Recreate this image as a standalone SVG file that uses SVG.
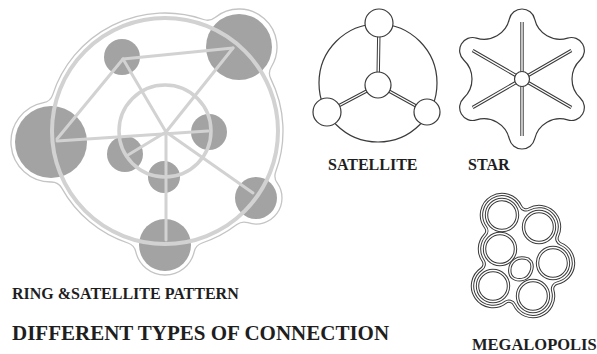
<svg xmlns="http://www.w3.org/2000/svg" width="597" height="354" viewBox="0 0 597 354">
<style>
.blob{fill:#fff;stroke:#c4c4c4;stroke-width:1.3}
.gnode{fill:#a3a3a3}
.gring{fill:none;stroke:#d2d2d2}
.gline{stroke:#d2d2d2;stroke-width:3;stroke-linecap:round}
.ink{fill:none;stroke:#3a3a3a;stroke-width:1.2}
.wnode{fill:#fff;stroke:#3a3a3a;stroke-width:1.2}
.dbl-o{fill:none;stroke:#3a3a3a;stroke-width:3.4}
.dbl-i{fill:none;stroke:#fff;stroke-width:1.4}
.lbl{font-family:"Liberation Serif","Times New Roman",serif;font-weight:bold;fill:#1e1e1e}
</style>
<rect width="597" height="354" fill="#fff"/>

<g id="ring-satellite">
  <path id="ring-outline" class="blob" d="M 203.59 19.50 A 12 12 0 0 0 215.08 17.48 A 38 38 0 0 1 271.30 67.02 A 12 12 0 0 0 270.75 78.66 A 118 118 0 0 1 275.71 171.84 A 12 12 0 0 0 277.19 182.94 A 26 26 0 0 1 247.91 222.71 A 12 12 0 0 0 236.86 224.60 A 118 118 0 0 1 202.15 243.00 A 12 12 0 0 0 194.24 251.71 A 30 30 0 0 1 135.76 251.71 A 12 12 0 0 0 127.85 243.00 A 118 118 0 0 1 61.78 188.18 A 12 12 0 0 0 51.22 182.00 A 40 40 0 0 1 43.57 102.69 A 12 12 0 0 0 52.76 94.60 A 118 118 0 0 1 203.59 19.50 Z"/>
  <g id="rs-nodes">
    <circle id="rs-n-topleft" class="gnode" cx="122" cy="57" r="18"/>
    <circle id="rs-n-topright" class="gnode" cx="239" cy="47" r="33"/>
    <circle id="rs-n-left" class="gnode" cx="51" cy="142" r="36"/>
    <circle id="rs-n-innerright" class="gnode" cx="209" cy="132" r="18"/>
    <circle id="rs-n-innerleft" class="gnode" cx="125" cy="154" r="18"/>
    <circle id="rs-n-innerbottom" class="gnode" cx="164" cy="177" r="16"/>
    <circle id="rs-n-lowerright" class="gnode" cx="256" cy="198" r="21"/>
    <circle id="rs-n-bottom" class="gnode" cx="165" cy="245" r="26"/>
  </g>
  <g id="rs-connectors">
    <circle class="gring" cx="165" cy="131" r="113" stroke-width="4"/>
    <circle class="gring" cx="165" cy="131" r="46" stroke-width="3.5"/>
    <line class="gline" x1="123" y1="59" x2="233" y2="48"/>
    <line class="gline" x1="123" y1="59" x2="57" y2="139"/>
    <line class="gline" x1="57" y1="141" x2="208" y2="131"/>
    <line class="gline" x1="123" y1="59" x2="166" y2="132"/>
    <line class="gline" x1="233" y1="48" x2="166" y2="132"/>
    <line class="gline" x1="166" y1="132" x2="128" y2="155"/>
    <line class="gline" x1="166" y1="132" x2="166" y2="240"/>
    <line class="gline" x1="166" y1="132" x2="253" y2="193"/>
  </g>
</g>

<g id="satellite">
  <circle id="sat-ring" class="ink" cx="378" cy="83" r="59"/>
  <g id="sat-connectors">
    <path class="dbl-o" d="M378 85 L379 23 M378 85 L327 112 M378 85 L427 112"/>
    <path class="dbl-i" d="M378 85 L379 23 M378 85 L327 112 M378 85 L427 112"/>
  </g>
  <circle id="sat-top" class="wnode" cx="379" cy="23" r="14"/>
  <circle id="sat-center" class="wnode" cx="378" cy="85" r="13"/>
  <circle id="sat-left" class="wnode" cx="327" cy="112" r="14"/>
  <circle id="sat-right" class="wnode" cx="427" cy="112" r="13"/>
</g>

<g id="star">
  <path id="star-outline" class="ink" d="M 509.34 19.06 A 13 13 0 0 1 534.66 19.06 A 26.03 26.03 0 0 0 567.58 38.07 A 13 13 0 0 1 580.24 60.00 A 26.03 26.03 0 0 0 580.24 98.00 A 13 13 0 0 1 567.58 119.93 A 26.03 26.03 0 0 0 534.66 138.94 A 13 13 0 0 1 509.34 138.94 A 26.03 26.03 0 0 0 476.42 119.93 A 13 13 0 0 1 463.76 98.00 A 26.03 26.03 0 0 0 463.76 60.00 A 13 13 0 0 1 476.42 38.07 A 26.03 26.03 0 0 0 509.34 19.06 Z"/>
  <g id="star-connectors">
    <path class="dbl-o" d="M522 79 L522 22 M522 79 L571.36 50.5 M522 79 L571.36 107.5 M522 79 L522 136 M522 79 L472.64 107.5 M522 79 L472.64 50.5"/>
    <path class="dbl-i" d="M522 79 L522 22 M522 79 L571.36 50.5 M522 79 L571.36 107.5 M522 79 L522 136 M522 79 L472.64 107.5 M522 79 L472.64 50.5"/>
  </g>
  <circle id="star-hub" class="wnode" cx="522" cy="79" r="7.5"/>
</g>

<g id="megalopolis">
  <g id="mega-outline">
    <path class="dbl-o" d="M 485.55 227.23 A 20.5 20.5 0 1 1 520.60 206.40 A 6 6 0 0 0 528.98 209.11 A 20.5 20.5 0 0 1 557.50 235.83 A 6 6 0 0 0 560.67 243.99 A 20.5 20.5 0 0 1 557.29 283.05 A 6 6 0 0 0 552.76 290.52 A 20.5 20.5 0 0 1 514.40 304.63 A 6 6 0 0 0 505.35 302.36 A 20.5 20.5 0 1 1 481.54 269.00 A 6 6 0 0 0 483.12 260.63 A 20.5 20.5 0 0 1 485.10 234.93 A 6 6 0 0 0 485.55 227.23 Z"/>
    <path class="dbl-i" d="M 485.55 227.23 A 20.5 20.5 0 1 1 520.60 206.40 A 6 6 0 0 0 528.98 209.11 A 20.5 20.5 0 0 1 557.50 235.83 A 6 6 0 0 0 560.67 243.99 A 20.5 20.5 0 0 1 557.29 283.05 A 6 6 0 0 0 552.76 290.52 A 20.5 20.5 0 0 1 514.40 304.63 A 6 6 0 0 0 505.35 302.36 A 20.5 20.5 0 1 1 481.54 269.00 A 6 6 0 0 0 483.12 260.63 A 20.5 20.5 0 0 1 485.10 234.93 A 6 6 0 0 0 485.55 227.23 Z"/>
  </g>
  <g id="mega-c1"><circle class="dbl-o" cx="502" cy="215" r="15.5"/><circle class="dbl-i" cx="502" cy="215" r="15.5"/></g>
  <g id="mega-c2"><circle class="dbl-o" cx="539" cy="227" r="15.5"/><circle class="dbl-i" cx="539" cy="227" r="15.5"/></g>
  <g id="mega-c3"><circle class="dbl-o" cx="500" cy="249" r="15.5"/><circle class="dbl-i" cx="500" cy="249" r="15.5"/></g>
  <g id="mega-c4"><circle class="dbl-o" cx="553" cy="263" r="15.5"/><circle class="dbl-i" cx="553" cy="263" r="15.5"/></g>
  <g id="mega-c5"><circle class="dbl-o" cx="493" cy="286" r="15.5"/><circle class="dbl-i" cx="493" cy="286" r="15.5"/></g>
  <g id="mega-c6"><circle class="dbl-o" cx="533" cy="296" r="15.5"/><circle class="dbl-i" cx="533" cy="296" r="15.5"/></g>
  <g id="mega-core">
    <path class="dbl-o" d="M 515 260 C 519 257 525 258 528 259 L 531 262 C 534 268 530 277 524 279 C 518 281 511 279 510 273 C 509 267 511 263 515 260 Z"/>
    <path class="dbl-i" d="M 515 260 C 519 257 525 258 528 259 L 531 262 C 534 268 530 277 524 279 C 518 281 511 279 510 273 C 509 267 511 263 515 260 Z"/>
  </g>
</g>

<g id="labels">
  <text class="lbl" x="328" y="170" font-size="16">SATELLITE</text>
  <text class="lbl" x="468" y="170" font-size="16">STAR</text>
  <text class="lbl" x="472" y="350" font-size="16.5">MEGALOPOLIS</text>
  <text class="lbl" x="12" y="299" font-size="16">RING &amp;SATELLITE PATTERN</text>
  <text class="lbl" x="12" y="340" font-size="21">DIFFERENT TYPES OF CONNECTION</text>
</g>
</svg>
